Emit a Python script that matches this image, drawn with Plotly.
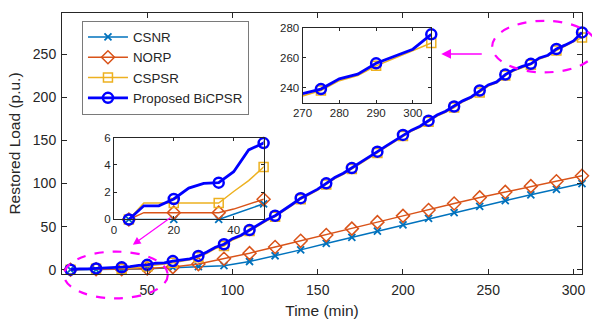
import plotly.graph_objects as go

# ---------------- data ----------------
T = list(range(5, 306, 5))
T_CS = [5, 10, 15, 20, 25, 30, 35, 40, 45, 50] + list(range(65, 306, 15))

CSNR = [0, 0, 0, 0, 0, 0, 0, 0.38, 0.77, 1.15,
        2.6, 3.5, 4.7, 9.5, 16.2, 23.0, 30.5, 37.6, 44.8, 52.0, 59.5,
        66.3, 73.4, 80.1, 86.9, 93.3, 100.0]
NORP = [0, 0.5, 0.5, 0.5, 0.5, 0.5, 0.5, 0.76, 1.1, 1.48,
        3.0, 6.5, 12.7, 19.2, 26.4, 33.5, 40.2, 47.7, 55.2, 62.5, 69.3,
        76.8, 83.9, 90.3, 97.0, 102.7, 109.1]
CSPSR = [0, 1.2, 1.2, 1.2, 1.2, 1.2, 1.2, 2.05, 2.85, 3.85,
         5.5, 6.5, 8.0, 9.5, 11.5, 14.5, 19.0, 24.5, 27.5, 34.5,
         38.8, 44.8, 51.3, 56.8, 61.5, 67.8, 74.8, 81.8, 87.3, 92.3,
         99.0, 105.8, 110.8, 116.8, 123.3, 128.8, 135.6, 142.2, 148.3, 155.2,
         160.8, 165.3, 171.7, 178.2, 182.8, 188.2, 194.8, 199.2, 205.8, 213.2,
         216.8, 225.3, 230.8, 234.6, 238.0, 244.6, 248.0, 254.5, 259.5, 264.5,
         269.7]
BICPSR = [0, 1.0, 1.0, 1.5, 2.3, 2.65, 2.7, 3.5, 5.1, 5.6,
          7.5, 8.0, 10.0, 11.0, 12.5, 16.0, 20.5, 26.0, 29.5, 36.0,
          40.0, 46.0, 52.5, 58.0, 62.6, 69.0, 76.0, 83.0, 88.5, 93.5,
          100.3, 107.0, 112.0, 118.0, 124.5, 130.0, 137.0, 143.5, 149.5, 156.5,
          162.0, 166.5, 173.0, 179.5, 184.0, 189.5, 196.0, 200.5, 208.0, 214.5,
          218.0, 226.5, 232.0, 236.0, 239.0, 245.8, 249.0, 256.2, 260.7, 265.6,
          275.5]

NAMES = ["CSNR", "NORP", "CSPSR", "Proposed BiCPSR"]
X_TICKS = [50, 100, 150, 200, 250, 300]
Y_TICKS = [0, 50, 100, 150, 200, 250]
IN1_X_TICKS = [0, 20, 40]
IN1_Y_TICKS = [0, 2, 4, 6]
IN2_X_TICKS = [270, 280, 290, 300]
IN2_Y_TICKS = [240, 260, 280]

# ---------------- styles ----------------
COLORS = ["#0072BD", "#D95319", "#EDB120", "#0000FF"]
SYMBOLS = ["x-thin-open", "diamond-open", "square-open", "circle-open"]
MSIZE = [7, 10, 9, 10]
LW = [1.5, 1.5, 1.5, 2.8]
MLW = [1.8, 1.5, 1.5, 2.5]
TXT = "#262626"
FONT = "Liberation Sans, Arial, sans-serif"

series = [(T_CS, CSNR), (T_CS, NORP), (T, CSPSR), (T, BICPSR)]

fig = go.Figure()

axes_sets = [
    ("x", "y", None),
    ("x2", "y2", (0, 50)),
    ("x3", "y3", (270, 305)),
]

for xa, ya, rng in axes_sets:
    for i, (tt, vv) in enumerate(series):
        fig.add_trace(go.Scatter(
            x=tt, y=vv, mode="lines", xaxis=xa, yaxis=ya,
            line=dict(color=COLORS[i], width=LW[i]),
            showlegend=False, hoverinfo="skip"))
        mk = [(t, v) for t, v in zip(tt, vv) if (t - 5) % 15 == 0
              and (rng is None or rng[0] <= t <= rng[1])]
        fig.add_trace(go.Scatter(
            x=[p[0] for p in mk], y=[p[1] for p in mk], mode="markers",
            xaxis=xa, yaxis=ya, cliponaxis=False,
            marker=dict(symbol=SYMBOLS[i], size=MSIZE[i], color=COLORS[i],
                        line=dict(color=COLORS[i], width=MLW[i])),
            showlegend=False, hoverinfo="skip"))

for i, name in enumerate(NAMES):
    fig.add_trace(go.Scatter(
        x=[None], y=[None], mode="lines+markers", name=name,
        line=dict(color=COLORS[i], width=LW[i]),
        marker=dict(symbol=SYMBOLS[i], size=MSIZE[i], color=COLORS[i],
                    line=dict(color=COLORS[i], width=MLW[i]))))

W, H = 592, 324
L, R, TOP, B = 62, 9, 7, 49
PW, PH = W - L - R, H - TOP - B


def px(xp):
    return (xp - L) / PW


def py(yp):
    return (H - B - yp) / PH


ax_common = dict(showline=True, linecolor=TXT, linewidth=1, mirror="allticks",
                 ticks="inside", tickcolor=TXT, ticklen=5, showgrid=False,
                 zeroline=False, tickfont=dict(size=14, color=TXT, family=FONT))
in_common = dict(ax_common, tickfont=dict(size=11.5, color=TXT, family=FONT), ticklen=3)

fig.update_layout(
    width=W, height=H,
    margin=dict(l=L, r=R, t=TOP, b=B),
    paper_bgcolor="white", plot_bgcolor="white",
    font=dict(family=FONT, color=TXT),
    xaxis=dict(ax_common, range=[0, 305], tickvals=X_TICKS, ticklabelstandoff=3,
               title=dict(text="Time (min)", font=dict(size=15.5, color=TXT), standoff=8)),
    yaxis=dict(ax_common, range=[-5, 298], tickvals=Y_TICKS, ticklabelstandoff=2,
               title=dict(text="Restored Load (p.u.)", font=dict(size=15.5, color=TXT), standoff=8)),
    xaxis2=dict(in_common, domain=[px(114), px(264)], anchor="y2", range=[0, 50],
                tickvals=IN1_X_TICKS),
    yaxis2=dict(in_common, domain=[py(219), py(135)], anchor="x2", range=[0, 6],
                tickvals=IN1_Y_TICKS),
    xaxis3=dict(in_common, domain=[px(303), px(432)], anchor="y3", range=[270, 305],
                tickvals=IN2_X_TICKS),
    yaxis3=dict(in_common, domain=[py(99), py(22)], anchor="x3", range=[230, 280],
                tickvals=IN2_Y_TICKS),
    legend=dict(x=px(82), y=py(15), xanchor="left", yanchor="top",
                bgcolor="white", bordercolor="#7a7a7a", borderwidth=1,
                font=dict(size=13.3, color=TXT, family=FONT),
                tracegroupgap=0, itemwidth=40),
    showlegend=True,
)

MAG = "#FF00FF"
fig.add_shape(type="circle", xref="paper", yref="paper",
              x0=px(64), x1=px(168), y0=py(300), y1=py(252),
              line=dict(color=MAG, width=2.2, dash="dash"))
fig.add_shape(type="circle", xref="paper", yref="paper",
              x0=px(493), x1=px(598), y0=py(68), y1=py(15),
              line=dict(color=MAG, width=2.2, dash="dash"))

fig.add_annotation(x=px(442), y=py(49), xref="paper", yref="paper",
                   ax=42, ay=0, text="", showarrow=True, arrowhead=2,
                   arrowsize=1.3, arrowwidth=1.5, arrowcolor=MAG)
fig.add_annotation(x=px(133), y=py(245), xref="paper", yref="paper",
                   ax=39, ay=-28, text="", showarrow=True, arrowhead=2,
                   arrowsize=1.3, arrowwidth=1.2, arrowcolor=MAG)

fig.write_html("out.html", config={"displayModeBar": False},
               post_script="document.body.style.margin='0';document.body.style.overflow='hidden';")
